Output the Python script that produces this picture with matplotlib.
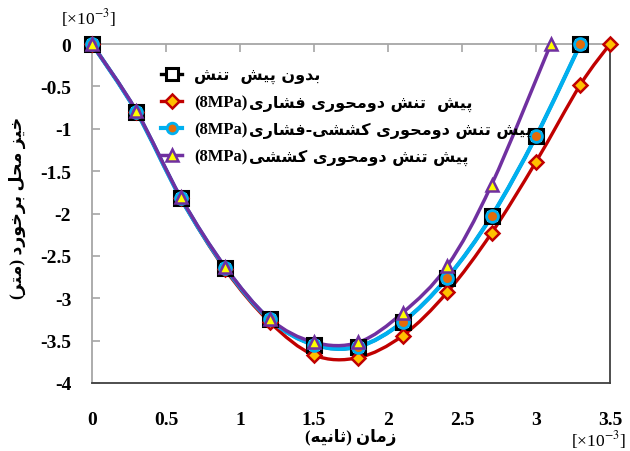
import numpy as np
import matplotlib
matplotlib.use('Agg')
import matplotlib.pyplot as plt
from matplotlib.path import Path
from matplotlib.patches import PathPatch
from matplotlib.lines import Line2D

plt.rcParams['axes.unicode_minus'] = False
plt.rcParams['mathtext.fontset'] = 'stix'

# ---------------- data (x in 1e-3 s, y in 1e-3 m) ----------------
x_none = [0, 0.3, 0.6, 0.9, 1.2, 1.5, 1.8, 2.1, 2.4, 2.7, 3.0, 3.3]
y_none = [0, -0.80, -1.82, -2.64, -3.25, -3.55, -3.57, -3.28, -2.76, -2.03, -1.09, 0]

x_comp = [0, 0.3, 0.6, 0.9, 1.2, 1.5, 1.8, 2.1, 2.4, 2.7, 3.0, 3.3, 3.5]
y_comp = [0, -0.80, -1.82, -2.66, -3.28, -3.67, -3.70, -3.44, -2.93, -2.23, -1.39, -0.48, 0]

x_tc = [0, 0.3, 0.6, 0.9, 1.2, 1.5, 1.8, 2.1, 2.4, 2.7, 3.0, 3.3]
y_tc = [0, -0.80, -1.82, -2.64, -3.25, -3.55, -3.57, -3.28, -2.76, -2.03, -1.09, 0]

x_ten = [0, 0.3, 0.6, 0.9, 1.2, 1.5, 1.8, 2.1, 2.4, 2.7, 3.1]
y_ten = [0, -0.79, -1.81, -2.63, -3.24, -3.52, -3.52, -3.17, -2.62, -1.66, 0]

x_ticks = [0, 0.5, 1, 1.5, 2, 2.5, 3, 3.5]
x_ticklabels = ['0', '0.5', '1', '1.5', '2', '2.5', '3', '3.5']
y_ticks = [0, -0.5, -1, -1.5, -2, -2.5, -3, -3.5, -4]
y_ticklabels = ['0', '-0.5', '-1', '-1.5', '-2', '-2.5', '-3', '-3.5', '-4']

# ---------------- minimal Persian shaping (presentation forms + RTL order) ----------------
DUAL = {
    '\u0628': '\uFE8F\uFE90\uFE91\uFE92',  # ب
    '\u067E': '\uFB56\uFB57\uFB58\uFB59',  # پ
    '\u062A': '\uFE95\uFE96\uFE97\uFE98',  # ت
    '\u062B': '\uFE99\uFE9A\uFE9B\uFE9C',  # ث
    '\u062D': '\uFEA1\uFEA2\uFEA3\uFEA4',  # ح
    '\u062E': '\uFEA5\uFEA6\uFEA7\uFEA8',  # خ
    '\u0634': '\uFEB5\uFEB6\uFEB7\uFEB8',  # ش
    '\u0641': '\uFED1\uFED2\uFED3\uFED4',  # ف
    '\u06A9': '\uFB8E\uFB8F\uFB90\uFB91',  # ک
    '\u0644': '\uFEDD\uFEDE\uFEDF\uFEE0',  # ل
    '\u0645': '\uFEE1\uFEE2\uFEE3\uFEE4',  # م
    '\u0646': '\uFEE5\uFEE6\uFEE7\uFEE8',  # ن
    '\u0647': '\uFEE9\uFEEA\uFEEB\uFEEC',  # ه
    '\u06CC': '\uFBFC\uFBFD\uFBFE\uFBFF',  # ی
}
RIGHT = {
    '\u0627': '\uFE8D\uFE8E',  # ا
    '\u062F': '\uFEA9\uFEAA',  # د
    '\u0631': '\uFEAD\uFEAE',  # ر
    '\u0632': '\uFEAF\uFEB0',  # ز
    '\u0648': '\uFEED\uFEEE',  # و
}


def fa(s):
    s = s.replace('\u064A', '\u06CC').replace('\u0643', '\u06A9')
    out = []
    n = len(s)
    for i, c in enumerate(s):
        if c not in DUAL and c not in RIGHT:
            out.append(c)
            continue
        prev = s[i - 1] if i > 0 else ''
        nxt = s[i + 1] if i + 1 < n else ''
        cp = prev in DUAL
        cn = (c in DUAL) and (nxt in DUAL or nxt in RIGHT)
        if c in DUAL:
            f = DUAL[c]
            g = f[3] if (cp and cn) else f[1] if cp else f[2] if cn else f[0]
        else:
            f = RIGHT[c]
            g = f[1] if cp else f[0]
        out.append(g)
    vis = ''.join(reversed(out))
    return vis.translate(str.maketrans('()', ')('))


legend_fa = [
    'بدون پیش  تنش',
    'پیش  تنش دومحوری فشاری',
    'پیش تنش دومحوری کششی-فشاری',
    'پیش تنش دومحوری کششی',
]
legend_tag = ['', '(8MPa)', '(8MPa)', '(8MPa)']
xlabel_txt = fa('زمان (ثانیه)')
ylabel_txt = fa('خیز محل برخورد (متر)')

FAM = ['Liberation Serif', 'DejaVu Sans']
LEG_SIZE = 11.5

# ---------------- figure ----------------
fig = plt.figure(figsize=(6.30, 4.52), dpi=100)
ax = fig.add_axes([92 / 630, 1 - 384 / 452, 518 / 630, 339 / 452])
ax.set_xlim(0, 3.5)
ax.set_ylim(-4, 0)


def smooth_path(xs, ys):
    pts = np.column_stack([xs, ys]).astype(float)
    n = len(pts)
    verts = [pts[0]]
    codes = [Path.MOVETO]
    for i in range(n - 1):
        p0 = pts[i - 1] if i > 0 else pts[i]
        p1 = pts[i]
        p2 = pts[i + 1]
        p3 = pts[i + 2] if i + 2 < n else pts[i + 1]
        verts += [p1 + (p2 - p0) / 6.0, p2 - (p3 - p1) / 6.0, p2]
        codes += [Path.CURVE4] * 3
    return Path(verts, codes)


series = [
    dict(x=x_none, y=y_none, color='black', lw=2.4, marker='s', mfc='white', mec='black', ms=10, mew=2.2),
    dict(x=x_comp, y=y_comp, color='#C00000', lw=2.4, marker='D', mfc='#FFC000', mec='#C00000', ms=7.5, mew=1.8),
    dict(x=x_tc, y=y_tc, color='#00B0F0', lw=3.0, marker='o', mfc='#E46C0A', mec='#00B0F0', ms=8.5, mew=2.0),
    dict(x=x_ten, y=y_ten, color='#7030A0', lw=2.5, marker='^', mfc='#FFFF00', mec='#7030A0', ms=9, mew=1.8),
]

for k, s in enumerate(series):
    patch = PathPatch(smooth_path(s['x'], s['y']), fill=False, edgecolor=s['color'],
                      lw=s['lw'], zorder=3 + k * 0.1, clip_on=False, capstyle='round',
                      joinstyle='round')
    ax.add_patch(patch)
for k, s in enumerate(series):
    ax.plot(s['x'], s['y'], linestyle='none', marker=s['marker'], mfc=s['mfc'],
            mec=s['mec'], ms=s['ms'], mew=s['mew'], zorder=5 + k * 0.1, clip_on=False)

# legend: row 1 is Persian only; rows 2-4 hold the "(8MPa)" tag, Persian follows it
labels = [t if t else fa(p) for p, t in zip(legend_fa, legend_tag)]
handles = [Line2D([], [], color=s['color'], lw=s['lw'], marker=s['marker'], mfc=s['mfc'],
                  mec=s['mec'], ms=s['ms'] * 0.9, mew=s['mew']) for s in series]
leg = ax.legend(handles, labels, loc='upper left', bbox_to_anchor=(0.133, 0.93),
                frameon=False, handlelength=1.35, handletextpad=0.75, labelspacing=0.68,
                borderaxespad=0, borderpad=0,
                prop=dict(family='DejaVu Sans', weight='bold', size=LEG_SIZE))
leg.set_zorder(8)
for txt, tag in zip(leg.get_texts(), legend_tag):
    if tag:
        txt.set_fontfamily('Liberation Serif')
        txt.set_fontsize(12)

# spines
for side in ['left', 'top']:
    ax.spines[side].set_color('#a6a6a6')
    ax.spines[side].set_linewidth(1.3)
for side in ['bottom', 'right']:
    ax.spines[side].set_color('#404040')
    ax.spines[side].set_linewidth(1.3)

ax.set_xticks(x_ticks)
ax.set_xticklabels(x_ticklabels)
ax.set_yticks(y_ticks)
ax.set_yticklabels(y_ticklabels)
ax.tick_params(axis='x', bottom=False, top=True, labelbottom=True, labeltop=False,
               direction='in', length=6, width=1.2, color='#a6a6a6', pad=20)
ax.tick_params(axis='y', left=True, right=False, direction='in', length=6, width=1.2,
               color='#a6a6a6', pad=15)
for lab in ax.get_xticklabels() + ax.get_yticklabels():
    lab.set_fontfamily('Liberation Serif')
    lab.set_fontweight('bold')
    lab.set_fontsize(14)

fig.text(88 / 630, 1 - 18 / 452, r'[×10$^{-3}$]', ha='center', va='center',
         fontsize=12.5, family='Liberation Serif')
fig.text(598 / 630, 1 - 440 / 452, r'[×10$^{-3}$]', ha='center', va='center',
         fontsize=12.5, family='Liberation Serif')

fig.text(351 / 630, 1 - 438 / 452, xlabel_txt, ha='center', va='center',
         fontsize=12, family=FAM, weight='bold')
fig.text(17 / 630, 1 - 208 / 452, ylabel_txt, ha='center', va='center', rotation=90,
         fontsize=12.5, family=FAM, weight='bold')

# place the Persian part right after each "(8MPa)" tag
fig.canvas.draw()
for txt, tag, p in zip(leg.get_texts(), legend_tag, legend_fa):
    if not tag:
        continue
    bb = txt.get_window_extent()
    xb, yb = txt.get_transform().transform(txt.get_position())
    fig.text((bb.x1 + 1) / fig.bbox.width, yb / fig.bbox.height, fa(p), ha='left',
             va='baseline', fontsize=LEG_SIZE, family='DejaVu Sans', weight='bold',
             zorder=10)

fig.savefig('out.png', dpi=100)
